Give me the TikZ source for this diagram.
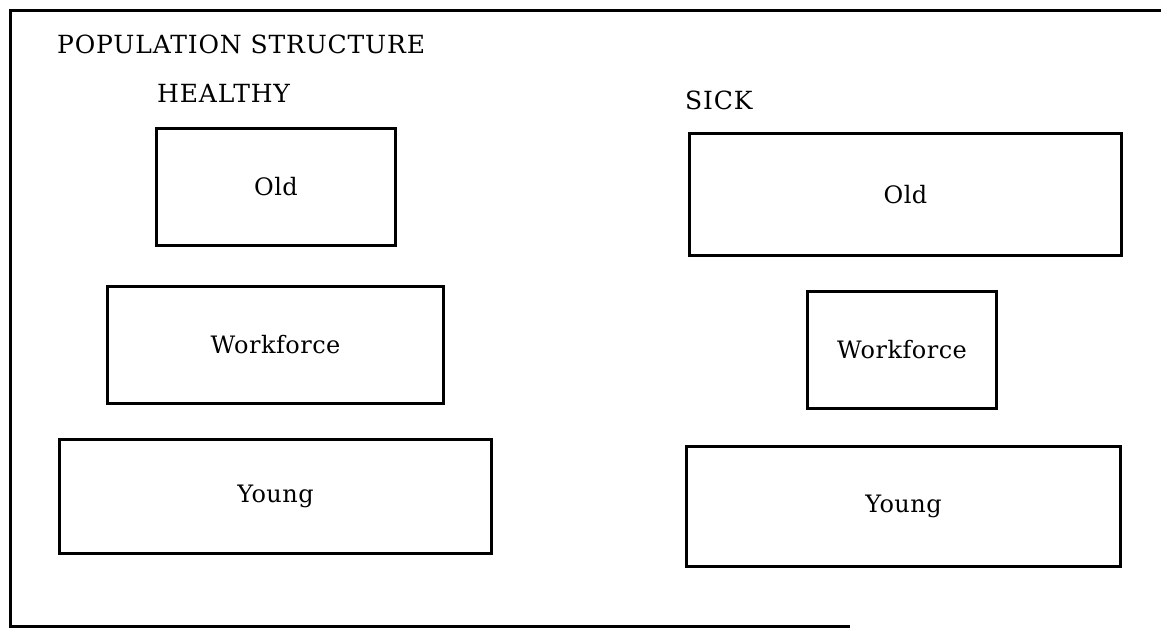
\documentclass[tikz,border=0pt]{standalone}
\usepackage{fontspec}
\setmainfont{DejaVu Serif}
\newfontfamily\headfont[LetterSpace=3.4]{DejaVu Serif}
\newfontfamily\boxfont[LetterSpace=2]{DejaVu Serif}
\begin{document}
\begin{tikzpicture}[x=1pt,y=-1pt,
  box/.style={draw, line width=3pt, rectangle, inner sep=0pt,
    font=\boxfont\fontsize{24}{29}\selectfont},
  lbl/.style={font=\headfont\fontsize{25}{30}\selectfont, anchor=base west, inner sep=0pt}]
\useasboundingbox (0,0) rectangle (1161,636);
% outer frame (open at the right)
\draw[line width=3pt] (1161,11) -- (10,11) -- (10,626) -- (850,626);
% headings
\node[lbl] (title) at (57,54) {POPULATION STRUCTURE};
\node[lbl] (healthy) at (157,103) {HEALTHY};
\node[lbl] (sick) at (685,110) {SICK};
% healthy population
\node[box, minimum width=239pt, minimum height=117pt] (hold) at (276,187) {Old};
\node[box, minimum width=336pt, minimum height=117pt] (hwork) at (275.5,345) {Workforce};
\node[box, minimum width=432pt, minimum height=114pt] (hyoung) at (275.5,496.5) {Young};
% sick population
\node[box, minimum width=432pt, minimum height=122pt] (sold) at (905.5,194.5) {Old};
\node[box, minimum width=189pt, minimum height=117pt] (swork) at (902,350) {Workforce};
\node[box, minimum width=434pt, minimum height=120pt] (syoung) at (903.5,506.5) {Young};
\end{tikzpicture}
\end{document}
